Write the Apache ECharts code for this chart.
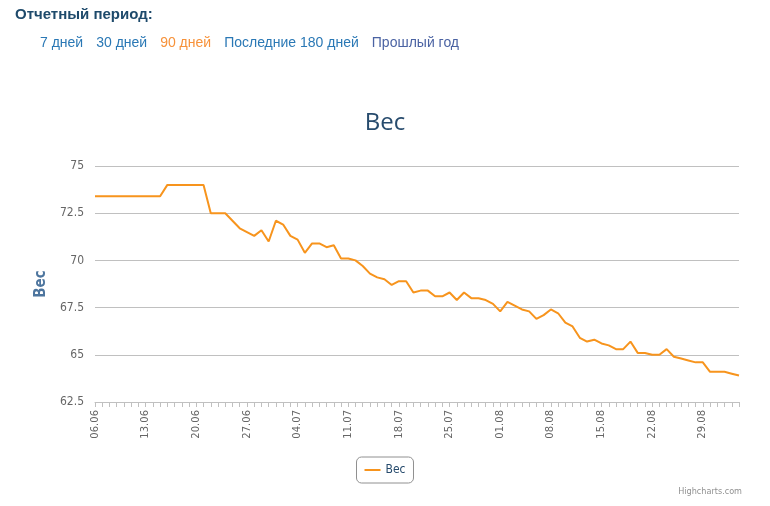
<!DOCTYPE html>
<html>
<head>
<meta charset="utf-8">
<script src="https://cdn.jsdelivr.net/npm/echarts@6/dist/echarts.min.js"></script>
<style>
  html, body { margin: 0; padding: 0; background: #fff; }
  #wrap { position: relative; width: 770px; height: 506px; }
  #main { position: absolute; left: 0; top: 0; width: 770px; height: 506px; }
  .head { position: absolute; left: 15px; top: 5px; font: bold 15px "Liberation Sans", Arial, sans-serif; color: #1e4a6b; z-index: 2; }
  .links { position: absolute; left: 40px; top: 34px; font: 14px "Liberation Sans", Arial, sans-serif; z-index: 2; white-space: nowrap; }
  .links span { margin-right: 13px; color: #2a78b5; }
  .links .cur { color: #f7923a; }
  .links .vis { color: #4b63a3; }
</style>
</head>
<body>
<div id="wrap">
  <div class="head">Отчетный период:</div>
  <div class="links">
    <span>7 дней</span><span>30 дней</span><span class="cur">90 дней</span><span>Последние 180 дней</span><span class="vis">Прошлый год</span>
  </div>
  <div id="main"></div>
</div>
<script>
// даты 06.06 - 03.09
var days = [
  '06.06','07.06','08.06','09.06','10.06','11.06','12.06','13.06','14.06','15.06',
  '16.06','17.06','18.06','19.06','20.06','21.06','22.06','23.06','24.06','25.06',
  '26.06','27.06','28.06','29.06','30.06','01.07','02.07','03.07','04.07','05.07',
  '06.07','07.07','08.07','09.07','10.07','11.07','12.07','13.07','14.07','15.07',
  '16.07','17.07','18.07','19.07','20.07','21.07','22.07','23.07','24.07','25.07',
  '26.07','27.07','28.07','29.07','30.07','31.07','01.08','02.08','03.08','04.08',
  '05.08','06.08','07.08','08.08','09.08','10.08','11.08','12.08','13.08','14.08',
  '15.08','16.08','17.08','18.08','19.08','20.08','21.08','22.08','23.08','24.08',
  '25.08','26.08','27.08','28.08','29.08','30.08','31.08','01.09','02.09','03.09'
];

// вес, кг
var weight = [
  73.4, 73.4, 73.4, 73.4, 73.4, 73.4, 73.4, 73.4, 73.4, 73.4,
  74.0, 74.0, 74.0, 74.0, 74.0, 74.0, 72.5, 72.5, 72.5, 72.1,
  71.7, 71.5, 71.3, 71.6, 71.0, 72.1, 71.9, 71.3, 71.1, 70.4,
  70.9, 70.9, 70.7, 70.8, 70.1, 70.1, 70.0, 69.7, 69.3, 69.1,
  69.0, 68.7, 68.9, 68.9, 68.3, 68.4, 68.4, 68.1, 68.1, 68.3,
  67.9, 68.3, 68.0, 68.0, 67.9, 67.7, 67.3, 67.8, 67.6, 67.4,
  67.3, 66.9, 67.1, 67.4, 67.2, 66.7, 66.5, 65.9, 65.7, 65.8,
  65.6, 65.5, 65.3, 65.3, 65.7, 65.1, 65.1, 65.0, 65.0, 65.3,
  64.9, 64.8, 64.7, 64.6, 64.6, 64.1, 64.1, 64.1, 64.0, 63.9
];

var yTicks = { min: 62.5, max: 75, step: 2.5 };

var chart = echarts.init(document.getElementById('main'));

chart.setOption({
  animation: false,
  title: {
    text: 'Вес',
    left: 'center',
    top: 106,
    textStyle: { fontFamily: 'Open Sans', fontSize: 24, fontWeight: 'normal', color: '#274b6d' }
  },
  legend: {
    data: ['Вес'],
    left: 'center',
    top: 457,
    icon: 'rect',
    itemWidth: 16,
    itemHeight: 2,
    borderColor: '#909090',
    borderWidth: 1,
    borderRadius: 5,
    padding: [7, 8, 7, 8],
    textStyle: { fontFamily: 'DejaVu Sans Condensed', fontSize: 12, color: '#274b6d' }
  },
  grid: { left: 95, right: 31, top: 166, bottom: 104 },
  xAxis: {
    type: 'category',
    data: days,
    boundaryGap: false,
    axisLine: { lineStyle: { color: '#c0c0c0' } },
    axisTick: { interval: 0, length: 5, lineStyle: { color: '#c0c0c0' } },
    axisLabel: {
      interval: 6,
      rotate: 90,
      margin: 8,
      fontFamily: 'DejaVu Sans',
      fontSize: 10,
      color: '#666'
    }
  },
  yAxis: {
    type: 'value',
    min: yTicks.min,
    max: yTicks.max,
    interval: yTicks.step,
    name: 'Вес',
    nameLocation: 'middle',
    nameRotate: 90,
    nameGap: 44,
    nameTextStyle: { fontFamily: 'DejaVu Sans Condensed', fontSize: 15, fontWeight: 'bold', color: '#4d759e' },
    axisLine: { show: false },
    axisTick: { show: false },
    axisLabel: { fontFamily: 'DejaVu Sans Condensed', fontSize: 12, color: '#666', margin: 11 },
    splitLine: { lineStyle: { color: '#c0c0c0' } }
  },
  series: [{
    name: 'Вес',
    type: 'line',
    data: weight,
    symbol: 'none',
    color: '#f7941d',
    lineStyle: { width: 2, color: '#f7941d' }
  }],
  graphic: [{
    type: 'text',
    right: 28,
    top: 487,
    style: { text: 'Highcharts.com', fontFamily: 'DejaVu Sans Condensed', fontSize: 9, fill: '#909090' }
  }]
});
</script>
</body>
</html>
